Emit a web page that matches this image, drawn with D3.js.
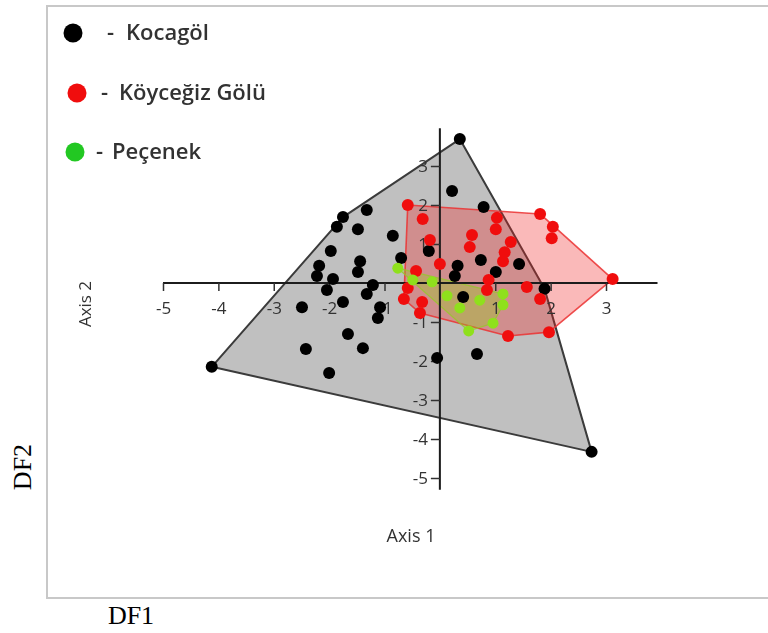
<!DOCTYPE html>
<html>
<head>
<meta charset="utf-8">
<script src="https://cdn.jsdelivr.net/npm/d3@7"></script>
<style>
  html, body { margin: 0; padding: 0; background: #fff; }
  svg { display: block; }
</style>
</head>
<body>
<svg id="chart" width="768" height="633"></svg>
<script>
// Discriminant function scores (DF1, DF2) for each lake
const kocagol = [
  [0.36, 3.69], [0.22, 2.36], [0.79, 1.95], [-1.32, 1.87], [-1.75, 1.69],
  [-1.86, 1.44], [-1.48, 1.38], [-0.85, 1.21], [-1.97, 0.82], [-0.20, 0.82],
  [-1.44, 0.56], [-0.70, 0.64], [0.32, 0.44], [0.74, 0.59], [1.43, 0.49],
  [-2.18, 0.44], [-1.48, 0.28], [1.01, 0.28], [-2.22, 0.18], [-1.93, 0.10],
  [0.27, 0.18], [-1.21, -0.05], [1.89, -0.15], [-2.04, -0.18], [-1.32, -0.28],
  [0.42, -0.36], [-1.75, -0.49], [-2.49, -0.62], [-1.08, -0.62], [-1.12, -0.90],
  [-1.66, -1.31], [-2.42, -1.69], [-1.39, -1.67], [0.67, -1.82], [-0.05, -1.92],
  [-2.00, -2.31], [-4.12, -2.15], [2.74, -4.33]
];
const koycegiz = [
  [-0.58, 2.00], [-0.31, 1.64], [-0.18, 1.10], [0.58, 1.23], [0.54, 0.92],
  [1.03, 1.67], [1.01, 1.38], [1.28, 1.05], [1.17, 0.79], [1.14, 0.56],
  [1.81, 1.77], [2.04, 1.44], [2.02, 1.15], [3.12, 0.10], [0.00, 0.49],
  [-0.43, 0.31], [0.88, 0.08], [0.85, -0.18], [1.57, -0.10], [-0.58, -0.13],
  [-0.65, -0.41], [-0.32, -0.49], [-0.36, -0.77], [1.81, -0.41], [1.23, -1.36],
  [1.97, -1.26]
];
const pecenek = [
  [-0.76, 0.38], [-0.49, 0.08], [-0.14, 0.03], [0.13, -0.33], [0.36, -0.64],
  [1.14, -0.28], [1.14, -0.56], [0.96, -1.03], [0.52, -1.23], [0.72, -0.44]
];
const seriesNames = ["Kocagöl", "Köyceğiz Gölü", "Peçenek"];
const xTicks = [-5, -4, -3, -2, -1, 1, 2, 3];
const yTicks = [-5, -4, -3, -2, -1, 1, 2, 3];

const svg = d3.select("#chart");

// soft rendering of the embedded plot
const defs = svg.append("defs");
defs.append("filter").attr("id", "soft")
  .attr("x", "-5%").attr("y", "-5%").attr("width", "110%").attr("height", "110%")
  .append("feGaussianBlur").attr("stdDeviation", 0.55);

// outer frame
svg.append("rect")
  .attr("x", 47).attr("y", 6).attr("width", 740).attr("height", 592)
  .attr("fill", "none").attr("stroke", "#c8c8c8").attr("stroke-width", 2);

const x = d3.scaleLinear().domain([-5, 3]).range([163, 606]);
const y = d3.scaleLinear().domain([-5, 3]).range([478, 166]);

const plot = svg.append("g").attr("filter", "url(#soft)");

const toPx = d => [x(d[0]), y(d[1])];
const line = d3.line();

function hull(data, fill, stroke, sw) {
  const h = d3.polygonHull(data.map(toPx));
  plot.append("path")
    .attr("d", line(h) + "Z")
    .attr("fill", fill)
    .attr("stroke", stroke)
    .attr("stroke-width", sw)
    .attr("stroke-linejoin", "round");
}

function dots(data, color, r) {
  plot.append("g").selectAll("circle").data(data).join("circle")
    .attr("cx", d => x(d[0]))
    .attr("cy", d => y(d[1]))
    .attr("r", r)
    .attr("fill", color);
}

// convex hulls of the three groups
hull(kocagol, "#c0c0c0", "#3a3a3a", 2);
hull(koycegiz, "rgba(240,40,40,0.33)", "rgba(235,50,50,0.85)", 1.6);
hull(pecenek, "rgba(150,210,30,0.35)", "rgba(150,200,40,0.8)", 1.2);

// axes crossing at the origin
const axes = plot.append("g");
axes.append("line")
  .attr("x1", x(-5)).attr("x2", x(3.93))
  .attr("y1", y(0)).attr("y2", y(0))
  .attr("stroke", "#1a1a1a").attr("stroke-width", 2);
axes.append("line")
  .attr("x1", x(0)).attr("x2", x(0))
  .attr("y1", y(3.97)).attr("y2", y(-5.3))
  .attr("stroke", "#1a1a1a").attr("stroke-width", 2);

const xAxis = axes.append("g")
  .attr("transform", `translate(0,${y(0)})`)
  .call(d3.axisBottom(x).tickValues(xTicks).tickSize(8).tickPadding(11).tickFormat(d3.format("d")));
const yAxis = axes.append("g")
  .attr("transform", `translate(${x(0)},0)`)
  .call(d3.axisLeft(y).tickValues(yTicks).tickSize(9).tickPadding(3).tickFormat(d3.format("d")));

[xAxis, yAxis].forEach(g => {
  g.select(".domain").remove();
  g.selectAll(".tick line").attr("stroke", "#333").attr("stroke-width", 1.5);
  g.selectAll(".tick text")
    .attr("fill", "#333")
    .style("font-family", "'Open Sans', sans-serif")
    .style("font-size", "17px")
    .text(d => d < 0 ? "-" + Math.abs(d) : d);
});

// points
dots(kocagol, "#000", 6);
dots(koycegiz, "#f01010", 6);
dots(pecenek, "#8fe01e", 5.5);

// axis titles inside the plot
plot.append("text")
  .attr("x", 411).attr("y", 542)
  .attr("text-anchor", "middle")
  .attr("fill", "#333")
  .style("font-family", "'Open Sans', sans-serif")
  .style("font-size", "18px")
  .text("Axis 1");
plot.append("text")
  .attr("transform", "translate(91,304) rotate(-90)")
  .attr("text-anchor", "middle")
  .attr("fill", "#333")
  .style("font-family", "'Open Sans', sans-serif")
  .style("font-size", "17px")
  .text("Axis 2");

// legend
const legendColors = ["#000", "#f01010", "#22c822"];
const legendPos = [
  { cx: 73, cy: 33, dash: 107, tx: 126 },
  { cx: 77, cy: 93, dash: 101, tx: 119 },
  { cx: 75, cy: 152, dash: 96, tx: 112 }
];
const legend = svg.append("g").attr("filter", "url(#soft)");
seriesNames.forEach((name, i) => {
  const p = legendPos[i];
  legend.append("circle").attr("cx", p.cx).attr("cy", p.cy).attr("r", 9.5).attr("fill", legendColors[i]);
  legend.append("text").attr("x", p.dash).attr("y", p.cy + 7)
    .attr("fill", "#333").style("font-family", "'Open Sans', sans-serif")
    .style("font-size", "22px").style("font-weight", "600")
    .text("-");
  legend.append("text").attr("x", p.tx).attr("y", p.cy + 7)
    .attr("fill", "#333").style("font-family", "'Open Sans', sans-serif")
    .style("font-size", "22px").style("font-weight", "600")
    .text(name);
});

// outer axis labels
svg.append("text")
  .attr("x", 131).attr("y", 624)
  .attr("text-anchor", "middle")
  .style("font-family", "'Liberation Serif', 'Times New Roman', serif")
  .style("font-size", "26px")
  .attr("fill", "#000")
  .text("DF1");
svg.append("text")
  .attr("transform", "translate(31,467) rotate(-90)")
  .attr("text-anchor", "middle")
  .style("font-family", "'Liberation Serif', 'Times New Roman', serif")
  .style("font-size", "26px")
  .attr("fill", "#000")
  .text("DF2");
</script>
</body>
</html>
